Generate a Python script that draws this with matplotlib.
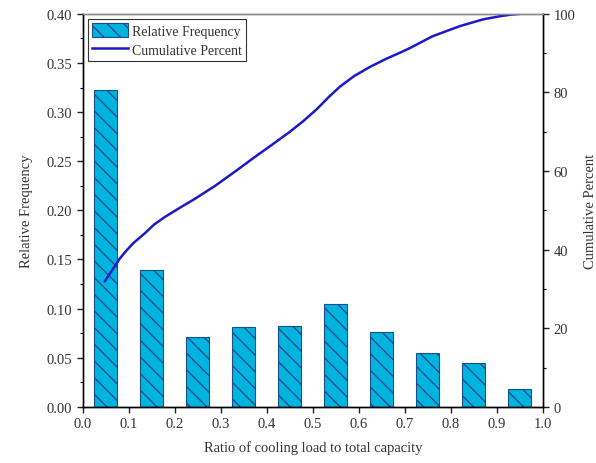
import matplotlib
matplotlib.use('Agg')
import matplotlib.pyplot as plt
from matplotlib.ticker import MultipleLocator

plt.rcParams['font.family'] = ['Liberation Serif', 'DejaVu Serif']
plt.rcParams['font.size'] = 10.5

# bin centres and relative frequency of each bin
ratio_bins = [0.05, 0.15, 0.25, 0.35, 0.45, 0.55, 0.65, 0.75, 0.85, 0.95]
rel_freq = [0.322, 0.139, 0.071, 0.081, 0.082, 0.105, 0.076, 0.055, 0.045, 0.018]

# cumulative percent curve
cum_x = [0.048, 0.065, 0.080, 0.095, 0.110, 0.135, 0.155, 0.178, 0.210, 0.243, 0.287,
         0.330, 0.374, 0.410, 0.450, 0.480, 0.509, 0.535, 0.559, 0.590, 0.624,
         0.660, 0.689, 0.711, 0.760, 0.820, 0.870, 0.907, 0.930, 0.950]
cum_y = [32.0, 35.0, 37.7, 39.8, 41.7, 44.2, 46.4, 48.3, 50.6, 52.9, 56.2,
         59.8, 63.6, 66.6, 70.0, 72.8, 75.8, 78.9, 81.5, 84.2, 86.5,
         88.6, 90.1, 91.3, 94.3, 96.9, 98.6, 99.4, 99.8, 100.0]

fig = plt.figure(figsize=(5.96, 4.64), dpi=100)
ax = fig.add_axes([0.139, 0.121, 0.772, 0.847])

bars = ax.bar(ratio_bins, rel_freq, width=0.05, color='#00b4e0',
              edgecolor='#1b4f8c', linewidth=0.8, hatch='\\\\',
              label='Relative Frequency')

ax.set_xlim(0, 1.0)
ax.set_ylim(0, 0.40)
ax.xaxis.set_major_locator(MultipleLocator(0.1))
ax.yaxis.set_major_locator(MultipleLocator(0.05))
ax.yaxis.set_minor_locator(MultipleLocator(0.025))
ax.xaxis.set_major_formatter(plt.FormatStrFormatter('%.1f'))
ax.yaxis.set_major_formatter(plt.FormatStrFormatter('%.2f'))
ax.tick_params(direction='out', length=4, width=1, colors='#222222', labelcolor='#333333')
ax.tick_params(which='minor', direction='out', length=2.5, width=0.8)
ax.set_xlabel('Ratio of cooling load to total capacity', color='#333333', labelpad=7)
ax.set_ylabel('Relative Frequency', color='#333333', labelpad=10)
for s in ax.spines.values():
    s.set_linewidth(1.0)
ax.spines['top'].set_color('#888888')

ax2 = ax.twinx()
line, = ax2.plot(cum_x, cum_y, color='#1a1ac8', linewidth=1.8,
                 solid_joinstyle='round', label='Cumulative Percent')
ax2.set_ylim(0, 100)
ax2.yaxis.set_major_locator(MultipleLocator(20))
ax2.yaxis.set_minor_locator(MultipleLocator(10))
ax2.tick_params(direction='out', length=4, width=1, colors='#222222', labelcolor='#333333')
ax2.tick_params(which='minor', direction='out', length=2.5, width=0.8)
ax2.set_ylabel('Cumulative Percent', color='#333333', labelpad=6)
for s in ax2.spines.values():
    s.set_linewidth(1.0)
ax2.spines['top'].set_color('#888888')

leg = ax.legend([bars, line], ['Relative Frequency', 'Cumulative Percent'],
                loc='upper left', bbox_to_anchor=(0.005, 0.995), fancybox=False,
                edgecolor='#333333', framealpha=1, handlelength=2.6,
                handleheight=1.2, borderpad=0.3, labelspacing=0.35,
                handletextpad=0.3, borderaxespad=0.2, fontsize=10)
leg.get_frame().set_linewidth(0.8)
for t in leg.get_texts():
    t.set_color('#333333')

fig.savefig('out.png', dpi=100)
